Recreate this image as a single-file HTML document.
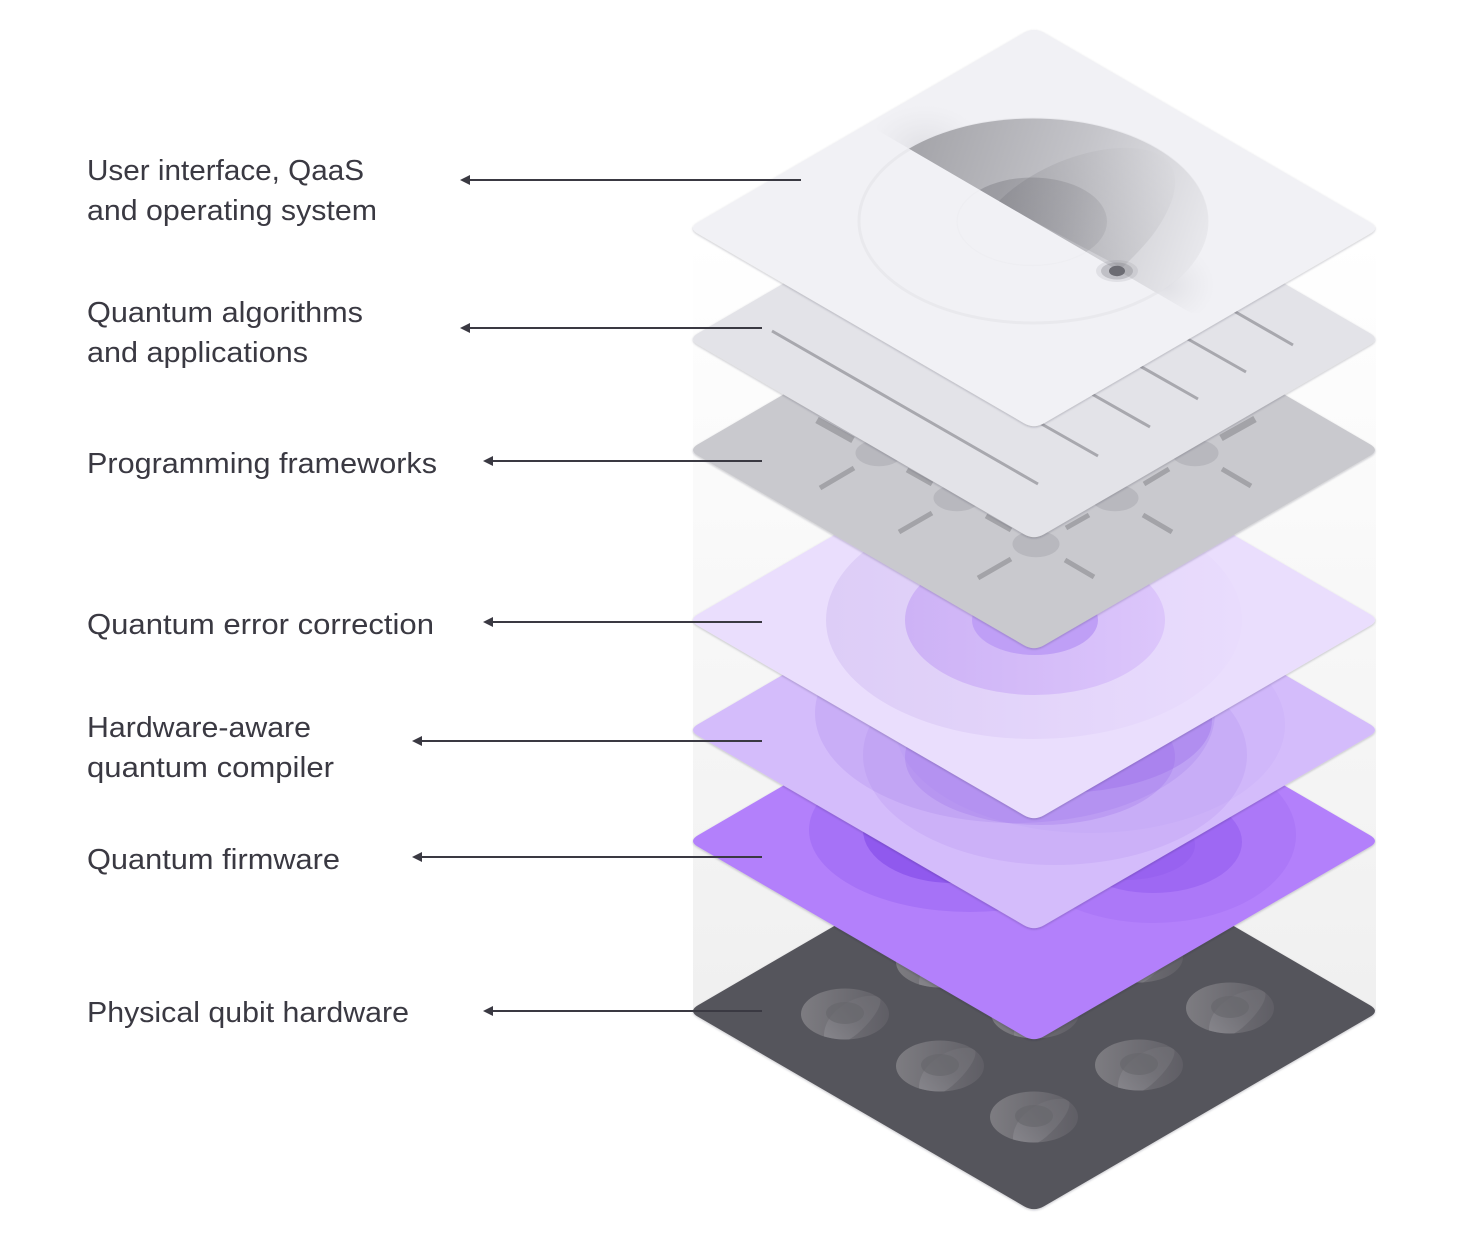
<!DOCTYPE html>
<html><head><meta charset="utf-8"><style>
html,body{margin:0;padding:0;background:#fff;width:1470px;height:1240px;overflow:hidden}
svg{display:block}
text{font-family:"Liberation Sans",sans-serif;font-size:29px;fill:#3a3942}
</style></head><body>
<svg width="1470" height="1240" viewBox="0 0 1470 1240" xmlns="http://www.w3.org/2000/svg">
<defs>
<path id="d" d="M-10,-195.2 Q0,-201 10,-195.2 L336,-5.8 Q346,0 336,5.8 L10,195.2 Q0,201 -10,195.2 L-336,5.8 Q-346,0 -336,-5.8 Z"/>
<clipPath id="c1"><use href="#d" transform="translate(1034 228)"/></clipPath>
<clipPath id="c4"><use href="#d" transform="translate(1034 620)"/></clipPath>
<clipPath id="c5"><use href="#d" transform="translate(1034 730)"/></clipPath>
<clipPath id="c6"><use href="#d" transform="translate(1034 841)"/></clipPath>
<clipPath id="half"><polygon points="877,130 1191,313 1400,313 1400,0 877,0"/></clipPath>
<filter id="s" x="-5%" y="-5%" width="110%" height="110%"><feDropShadow dx="0" dy="1" stdDeviation="1" flood-color="#1c1530" flood-opacity=".25"/></filter>
<linearGradient id="bg" x1="0" y1="240" x2="0" y2="1000" gradientUnits="userSpaceOnUse"><stop offset="0" stop-color="#fff"/><stop offset="1" stop-color="#f0f0f0"/></linearGradient>
<linearGradient id="g1" x1="920" y1="150" x2="1215" y2="250" gradientUnits="userSpaceOnUse"><stop offset="0" stop-color="#a6a6ab"/><stop offset=".5" stop-color="#c4c4c9"/><stop offset="1" stop-color="#ebebef"/></linearGradient>
<radialGradient id="fade"><stop offset="0" stop-color="#dedee3" stop-opacity=".95"/><stop offset="1" stop-color="#e6e6ea" stop-opacity="0"/></radialGradient>
<linearGradient id="g1c" x1="1000" y1="190" x2="1110" y2="240" gradientUnits="userSpaceOnUse"><stop offset="0" stop-color="#6b6b72" stop-opacity=".35"/><stop offset="1" stop-color="#6b6b72" stop-opacity=".12"/></linearGradient>
<linearGradient id="g1p" x1="1000" y1="240" x2="1180" y2="160" gradientUnits="userSpaceOnUse"><stop offset="0" stop-color="#77777d" stop-opacity=".35"/><stop offset="1" stop-color="#dcdce0" stop-opacity=".4"/></linearGradient>
<linearGradient id="g4a" x1="830" y1="620" x2="1240" y2="620" gradientUnits="userSpaceOnUse"><stop offset="0" stop-color="#ddcdf7"/><stop offset="1" stop-color="#e9dcfd"/></linearGradient>
<linearGradient id="g4b" x1="906" y1="620" x2="1165" y2="620" gradientUnits="userSpaceOnUse"><stop offset="0" stop-color="#cdb2f6"/><stop offset="1" stop-color="#dcc6fb"/></linearGradient>
<linearGradient id="q" x1="0" y1="0" x2="1" y2="0"><stop offset="0" stop-color="#7d7c81"/><stop offset="1" stop-color="#5f5e65"/></linearGradient>
<linearGradient id="qp" x1="0" y1="1" x2="1" y2="0"><stop offset="0" stop-color="#8e8d93" stop-opacity=".8"/><stop offset=".55" stop-color="#76757b" stop-opacity=".7"/><stop offset="1" stop-color="#6d6c72" stop-opacity=".8"/></linearGradient>
<clipPath id="qc"><ellipse cx="0" cy="0" rx="44" ry="25.5"/></clipPath>
<g id="qubit">
<ellipse cx="0" cy="0" rx="44" ry="25.5" fill="url(#q)"/>
<g clip-path="url(#qc)">
<path d="M-20,30 C-24,14 -16,0 0,-10 C14,-19 30,-20 35,-16 C38,-8 26,8 12,20 C2,28 -14,36 -20,30 Z" fill="url(#qp)"/>
</g>
<ellipse cx="0" cy="-1" rx="19" ry="11" fill="#66656b" opacity=".6"/>
</g>
</defs>

<rect x="693" y="240" width="683" height="771" fill="url(#bg)"/>

<!-- Layer 7 -->
<use href="#d" transform="translate(1034 1011)" fill="#55545c" filter="url(#s)"/>
<use href="#qubit" x="845" y="1014"/>
<use href="#qubit" x="940" y="1066"/>
<use href="#qubit" x="1034" y="1117"/>
<use href="#qubit" x="1139" y="1065"/>
<use href="#qubit" x="1230" y="1008"/>
<use href="#qubit" x="940" y="962"/>
<use href="#qubit" x="1139" y="957"/>
<use href="#qubit" x="1035" y="1013"/>

<!-- Layer 6 -->
<use href="#d" transform="translate(1034 841)" fill="#b380fb" filter="url(#s)"/>
<g clip-path="url(#c6)">
<ellipse cx="970" cy="830" rx="161" ry="82" fill="#7a3fe6" opacity=".22"/>
<ellipse cx="953" cy="830" rx="90" ry="53" fill="#7a3fe6" opacity=".5"/>
<ellipse cx="1153" cy="835" rx="143" ry="88" fill="#7a3fe6" opacity=".12"/>
<ellipse cx="1153" cy="842" rx="89" ry="51" fill="#7a3fe6" opacity=".28"/>
<ellipse cx="1125" cy="845" rx="70" ry="35" fill="#7a3fe6" opacity=".14"/>
</g>

<!-- Layer 5 -->
<use href="#d" transform="translate(1034 730)" fill="#d4bcfb" filter="url(#s)"/>
<g clip-path="url(#c5)">
<ellipse cx="1015" cy="713" rx="200" ry="110" fill="#8e5ce6" opacity=".15"/>
<ellipse cx="1090" cy="725" rx="195" ry="108" fill="#8e5ce6" opacity=".05"/>
<ellipse cx="1055" cy="755" rx="192" ry="110" fill="#8e5ce6" opacity=".1"/>
<ellipse cx="1040" cy="757" rx="135" ry="68" fill="#8e5ce6" opacity=".2"/>
<ellipse cx="1058" cy="720" rx="154" ry="73" fill="#8e5ce6" opacity=".28"/>
</g>

<!-- Layer 4 -->
<use href="#d" transform="translate(1034 620)" fill="#eadefd" filter="url(#s)"/>
<g clip-path="url(#c4)">
<ellipse cx="1034" cy="620" rx="208" ry="119" fill="url(#g4a)"/>
<ellipse cx="1035" cy="620" rx="130" ry="75" fill="url(#g4b)"/>
<ellipse cx="1035" cy="620" rx="63" ry="35" fill="#bf9ff6"/>
</g>

<!-- Layer 3 -->
<use href="#d" transform="translate(1034 450)" fill="#c9c9ce" filter="url(#s)"/>
<g fill="#b8b8be">
<ellipse cx="879" cy="453" rx="23.5" ry="13.3"/>
<ellipse cx="957" cy="498" rx="23.5" ry="13.3"/>
<ellipse cx="1036" cy="544" rx="23.5" ry="13.3"/>
<ellipse cx="1115" cy="498" rx="23.5" ry="13.3"/>
<ellipse cx="1195" cy="453" rx="23.5" ry="13.3"/>
</g>
<g stroke="#a3a3a8" stroke-width="5" fill="none">
<path d="M820,488L854,468M907,470L932,484"/>
<path d="M986,516L1011,530M899,532L932,513"/>
<path d="M978,578L1011,559M1065,560L1094,577M1066,528L1089,515"/>
<path d="M1144,484L1169,469M1143,515L1172,532"/>
<path d="M1222,469L1251,486"/>
</g>
<g stroke="#a3a3a8" stroke-width="7" fill="none"><path d="M817,420L853,440M1221,438L1255,419"/></g>

<!-- Layer 2 -->
<use href="#d" transform="translate(1034 339)" fill="#e3e3e8" filter="url(#s)"/>
<g stroke="#a8a8ae" stroke-width="3" fill="none">
<path d="M772,331L1038,484"/>
<path d="M1220,303L1293,345M1172,330L1246,372M1124,357L1198,399M1076,385L1150,427M1024,414L1098,456"/>
</g>

<!-- Layer 1 -->
<use href="#d" transform="translate(1034 228)" fill="#f1f1f5" filter="url(#s)"/>
<g clip-path="url(#c1)">
<ellipse cx="1033" cy="221" rx="174" ry="102" fill="none" stroke="#e9e9ed" stroke-width="3"/>
<ellipse cx="1032" cy="221.5" rx="75" ry="44" fill="none" stroke="#eeeef2" stroke-width="1.2"/>
<g clip-path="url(#half)">
<ellipse cx="925" cy="150" rx="60" ry="45" fill="url(#fade)"/>
<ellipse cx="1165" cy="285" rx="50" ry="42" fill="url(#fade)"/>
<ellipse cx="1033" cy="221" rx="175" ry="102.5" fill="url(#g1)"/>
<path d="M998,202 C1040,160 1100,146 1130,148 C1175,150 1180,175 1172,200 C1160,232 1140,250 1122,268 Z" fill="url(#g1p)"/>
<ellipse cx="1032" cy="221.5" rx="75" ry="44" fill="url(#g1c)"/>
</g>
<ellipse cx="1117" cy="271" rx="21" ry="11" fill="#77777d" opacity=".13"/>
<ellipse cx="1117" cy="271" rx="16" ry="8.5" fill="#77777d" opacity=".3"/>
<ellipse cx="1117" cy="271" rx="8" ry="5.2" fill="#6c6c73"/>
</g>

<!-- Connectors -->
<g stroke="#3a3942" stroke-width="2" fill="none">
<path d="M801,180H465M762,328H465M762,461H488M762,622H488M762,741H417M762,857H417M762,1011H488"/>
</g>
<g fill="#3a3942">
<path d="M460,180l10,-5v10z"/><path d="M460,328l10,-5v10z"/>
<path d="M483,461l10,-5v10z"/><path d="M483,622l10,-5v10z"/>
<path d="M412,741l10,-5v10z"/><path d="M412,857l10,-5v10z"/>
<path d="M483,1011l10,-5v10z"/>
</g>

<!-- Labels -->
<text x="87" y="180" textLength="277" lengthAdjust="spacingAndGlyphs">User interface, QaaS</text>
<text x="87" y="220" textLength="290" lengthAdjust="spacingAndGlyphs">and operating system</text>
<text x="87" y="322" textLength="276" lengthAdjust="spacingAndGlyphs">Quantum algorithms</text>
<text x="87" y="362" textLength="221" lengthAdjust="spacingAndGlyphs">and applications</text>
<text x="87" y="473" textLength="350" lengthAdjust="spacingAndGlyphs">Programming frameworks</text>
<text x="87" y="634" textLength="347" lengthAdjust="spacingAndGlyphs">Quantum error correction</text>
<text x="87" y="737" textLength="224" lengthAdjust="spacingAndGlyphs">Hardware-aware</text>
<text x="87" y="777" textLength="247" lengthAdjust="spacingAndGlyphs">quantum compiler</text>
<text x="87" y="869" textLength="253" lengthAdjust="spacingAndGlyphs">Quantum firmware</text>
<text x="87" y="1022" textLength="322" lengthAdjust="spacingAndGlyphs">Physical qubit hardware</text>
</svg>
</body></html>
